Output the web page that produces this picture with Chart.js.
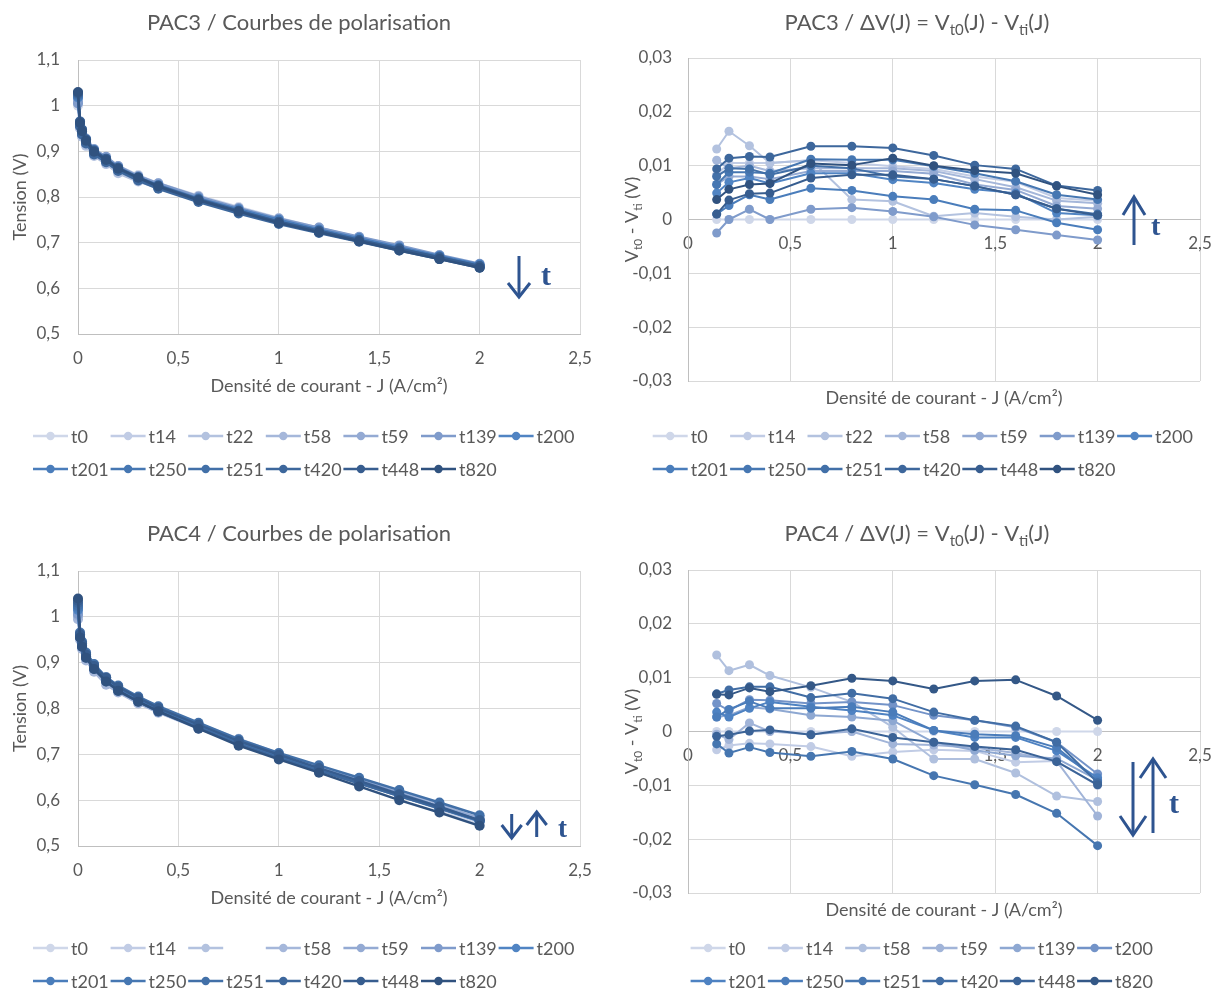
<!DOCTYPE html>
<html><head><meta charset="utf-8">
<script src="https://cdn.jsdelivr.net/npm/chart.js@4.4.1/dist/chart.umd.min.js"></script>
<style>
html,body{margin:0;padding:0;background:#fff;width:1220px;height:991px;overflow:hidden;position:relative;}
.box{position:absolute;width:610px;height:480px;}
canvas{display:block;}
</style></head><body>
<div class="box" style="left:0;top:0"><canvas id="c1" width="610" height="480"></canvas></div>
<div class="box" style="left:610px;top:0"><canvas id="c2" width="610" height="480"></canvas></div>
<div class="box" style="left:0;top:511px"><canvas id="c3" width="610" height="480"></canvas></div>
<div class="box" style="left:610px;top:511px"><canvas id="c4" width="610" height="480"></canvas></div>
<script>
// ---------- categories / x values ----------
const polJ = [0,0.01,0.02,0.04,0.08,0.14,0.2,0.3,0.4,0.6,0.8,1.0,1.2,1.4,1.6,1.8,2.0];
const dvJ  = [0.14,0.2,0.3,0.4,0.6,0.8,1.0,1.2,1.4,1.6,1.8,2.0];
const pac3Names   = ['t0','t14','t22','t58','t59','t139','t200','t201','t250','t251','t420','t448','t820'];
const pac4PolNames = ['t0','t14','','t58','t59','t139','t200','t201','t250','t251','t420','t448','t820'];
const pac4DvNames  = ['t0','t14','t58','t59','t139','t200','t201','t250','t251','t420','t448','t820'];

// ---------- tick labels ----------
const xTickValues = [0,0.5,1,1.5,2,2.5];
const xTickLabels = ['0','0,5','1','1,5','2','2,5'];
const polYTickValues = [0.5,0.6,0.7,0.8,0.9,1.0,1.1];
const polYTickLabels = ['0,5','0,6','0,7','0,8','0,9','1','1,1'];
const dvYTickValues = [-0.03,-0.02,-0.01,0,0.01,0.02,0.03];
const dvYTickLabels = ['-0,03','-0,02','-0,01','0','0,01','0,02','0,03'];

// ---------- PAC3 polarisation (V) ----------
const pac3Pol_t0   = [1.000,0.962,0.945,0.925,0.902,0.885,0.868,0.848,0.830,0.803,0.778,0.754,0.733,0.712,0.692,0.670,0.650];
const pac3Pol_t14  = [1.015,0.955,0.937,0.917,0.894,0.877,0.858,0.838,0.820,0.792,0.768,0.744,0.724,0.704,0.685,0.666,0.647];
const pac3Pol_t22  = [1.008,0.950,0.932,0.912,0.890,0.872,0.852,0.834,0.820,0.792,0.774,0.751,0.732,0.711,0.692,0.670,0.650];
const pac3Pol_t58  = [1.010,0.953,0.935,0.915,0.892,0.874,0.859,0.838,0.821,0.794,0.769,0.745,0.724,0.705,0.686,0.667,0.647];
const pac3Pol_t59  = [1.012,0.956,0.938,0.918,0.895,0.879,0.860,0.840,0.823,0.794,0.769,0.745,0.725,0.706,0.687,0.668,0.648];
const pac3Pol_t139 = [1.005,0.966,0.948,0.928,0.905,0.888,0.868,0.846,0.830,0.801,0.776,0.753,0.733,0.713,0.694,0.673,0.654];
const pac3Pol_t200 = [1.018,0.962,0.944,0.923,0.899,0.880,0.861,0.840,0.823,0.794,0.769,0.747,0.726,0.706,0.687,0.669,0.649];
const pac3Pol_t201 = [1.020,0.964,0.947,0.926,0.903,0.884,0.865,0.843,0.826,0.797,0.773,0.750,0.729,0.710,0.690,0.671,0.652];
const pac3Pol_t250 = [1.022,0.958,0.940,0.920,0.896,0.879,0.859,0.839,0.821,0.792,0.767,0.743,0.723,0.703,0.685,0.665,0.646];
const pac3Pol_t251 = [1.024,0.957,0.939,0.919,0.895,0.877,0.859,0.839,0.822,0.793,0.769,0.746,0.726,0.706,0.687,0.668,0.649];
const pac3Pol_t420 = [1.026,0.955,0.937,0.917,0.893,0.876,0.857,0.836,0.818,0.789,0.764,0.741,0.721,0.702,0.683,0.664,0.645];
const pac3Pol_t448 = [1.028,0.965,0.947,0.926,0.902,0.884,0.864,0.843,0.825,0.795,0.770,0.746,0.726,0.706,0.687,0.668,0.649];
const pac3Pol_t820 = [1.030,0.962,0.944,0.923,0.899,0.881,0.862,0.842,0.823,0.793,0.768,0.743,0.723,0.703,0.683,0.664,0.645];

// ---------- PAC3 deltaV (V) ----------
const pac3Dv_t0   = [0,0,0,0,0,0,0,0,0,0,0,0];
const pac3Dv_t14  = [0.0083,0.0105,0.0105,0.0105,0.0110,0.0105,0.0099,0.0094,0.0080,0.0070,0.0040,0.0035];
const pac3Dv_t22  = [0.0131,0.0164,0.0137,0.0105,0.0110,0.0037,0.0034,0.0006,0.0012,0.0005,0.0000,0.0005];
const pac3Dv_t58  = [0.0110,0.0095,0.0100,0.0090,0.0095,0.0095,0.0095,0.0090,0.0075,0.0060,0.0035,0.0030];
const pac3Dv_t59  = [0.0065,0.0080,0.0080,0.0075,0.0090,0.0090,0.0090,0.0085,0.0065,0.0055,0.0025,0.0020];
const pac3Dv_t139 = [-0.0025,0.0000,0.0019,0.0000,0.0019,0.0022,0.0015,0.0005,-0.0010,-0.0019,-0.0029,-0.0038];
const pac3Dv_t200 = [0.0049,0.0069,0.0077,0.0067,0.0086,0.0086,0.0074,0.0068,0.0056,0.0049,0.0012,0.0008];
const pac3Dv_t201 = [0.0010,0.0026,0.0046,0.0037,0.0058,0.0054,0.0043,0.0037,0.0019,0.0017,-0.0006,-0.0019];
const pac3Dv_t250 = [0.0065,0.0088,0.0088,0.0086,0.0112,0.0111,0.0111,0.0099,0.0086,0.0071,0.0046,0.0037];
const pac3Dv_t251 = [0.0080,0.0095,0.0094,0.0083,0.0100,0.0095,0.0080,0.0075,0.0062,0.0046,0.0020,0.0010];
const pac3Dv_t420 = [0.0094,0.0114,0.0117,0.0116,0.0136,0.0136,0.0133,0.0119,0.0101,0.0094,0.0063,0.0054];
const pac3Dv_t448 = [0.0010,0.0036,0.0048,0.0049,0.0077,0.0083,0.0083,0.0075,0.0062,0.0046,0.0020,0.0008];
const pac3Dv_t820 = [0.0037,0.0056,0.0065,0.0067,0.0104,0.0101,0.0114,0.0100,0.0091,0.0086,0.0062,0.0046];

// ---------- PAC4 polarisation (V) ----------
const pac4Pol_t0   = [1.000,0.962,0.942,0.918,0.893,0.866,0.846,0.823,0.801,0.764,0.729,0.698,0.668,0.639,0.610,0.580,0.546];
const pac4Pol_t14  = [1.005,0.965,0.945,0.921,0.896,0.869,0.849,0.825,0.803,0.767,0.734,0.702,0.671,0.643,0.616,0.586,0.556];
const pac4Pol_t22  = [1.008,0.963,0.944,0.920,0.895,0.868,0.848,0.825,0.803,0.766,0.732,0.700,0.670,0.641,0.613,0.583,0.553];
const pac4Pol_t58  = [0.995,0.950,0.930,0.905,0.880,0.852,0.835,0.811,0.791,0.756,0.724,0.697,0.673,0.644,0.618,0.592,0.559];
const pac4Pol_t59  = [1.003,0.962,0.942,0.918,0.893,0.867,0.848,0.821,0.801,0.765,0.729,0.700,0.671,0.642,0.614,0.586,0.562];
const pac4Pol_t139 = [1.006,0.958,0.938,0.914,0.889,0.863,0.843,0.819,0.797,0.761,0.726,0.696,0.670,0.643,0.615,0.585,0.555];
const pac4Pol_t200 = [1.015,0.957,0.937,0.913,0.888,0.861,0.842,0.817,0.795,0.759,0.724,0.693,0.665,0.637,0.609,0.582,0.554];
const pac4Pol_t201 = [1.018,0.958,0.938,0.914,0.889,0.862,0.843,0.819,0.796,0.759,0.725,0.695,0.668,0.640,0.611,0.584,0.555];
const pac4Pol_t250 = [1.022,0.959,0.939,0.915,0.890,0.863,0.842,0.817,0.797,0.760,0.724,0.694,0.668,0.640,0.611,0.583,0.555];
const pac4Pol_t251 = [1.025,0.966,0.946,0.922,0.897,0.868,0.850,0.826,0.805,0.769,0.733,0.703,0.676,0.649,0.622,0.595,0.567];
const pac4Pol_t420 = [1.030,0.955,0.935,0.911,0.886,0.859,0.838,0.815,0.793,0.758,0.722,0.692,0.664,0.637,0.609,0.582,0.556];
const pac4Pol_t448 = [1.035,0.962,0.942,0.918,0.893,0.867,0.847,0.823,0.801,0.765,0.729,0.699,0.670,0.642,0.613,0.586,0.556];
const pac4Pol_t820 = [1.040,0.955,0.935,0.911,0.886,0.859,0.839,0.815,0.794,0.756,0.719,0.689,0.660,0.630,0.600,0.573,0.544];

// ---------- PAC4 deltaV (V) ----------
const pac4Dv_t0   = [0,0,0,0,0,0,0,0,0,0,0,0];
const pac4Dv_t14  = [-0.0034,-0.0026,-0.0022,-0.0023,-0.0028,-0.0046,-0.0038,-0.0034,-0.0036,-0.0057,-0.0055,-0.0100];
const pac4Dv_t58  = [0.0142,0.0113,0.0124,0.0104,0.0082,0.0055,0.0008,-0.0051,-0.0051,-0.0077,-0.0120,-0.0130];
const pac4Dv_t59  = [-0.0005,-0.0015,0.0016,0.0000,-0.0005,0.0000,-0.0023,-0.0025,-0.0030,-0.0040,-0.0055,-0.0157];
const pac4Dv_t139 = [0.0027,0.0030,0.0045,0.0042,0.0030,0.0027,0.0020,-0.0020,-0.0035,-0.0045,-0.0050,-0.0090];
const pac4Dv_t200 = [0.0052,0.0039,0.0059,0.0058,0.0052,0.0055,0.0049,0.0030,0.0021,0.0008,-0.0020,-0.0079];
const pac4Dv_t201 = [0.0036,0.0027,0.0043,0.0055,0.0046,0.0039,0.0030,0.0002,-0.0011,-0.0011,-0.0036,-0.0086];
const pac4Dv_t250 = [0.0027,0.0041,0.0056,0.0043,0.0043,0.0046,0.0036,0.0002,-0.0005,-0.0008,-0.0030,-0.0092];
const pac4Dv_t251 = [-0.0023,-0.0040,-0.0029,-0.0039,-0.0046,-0.0037,-0.0051,-0.0082,-0.0099,-0.0117,-0.0152,-0.0212];
const pac4Dv_t420 = [0.0070,0.0077,0.0083,0.0083,0.0063,0.0071,0.0061,0.0036,0.0021,0.0010,-0.0020,-0.0095];
const pac4Dv_t448 = [-0.0009,-0.0006,0.0001,0.0003,-0.0006,0.0005,-0.0011,-0.0020,-0.0028,-0.0034,-0.0056,-0.0099];
const pac4Dv_t820 = [0.0069,0.0068,0.0081,0.0074,0.0085,0.0099,0.0094,0.0079,0.0094,0.0096,0.0066,0.0021];

// ---------- colours ----------
const colors13 = ['#cfd7e9','#c1cce5','#b3c2df','#a5b7da','#94aad3','#7f9bcb','#5084c3','#4a7dbb','#4677b2','#4270a8','#3d679c','#375d8f','#30527f'];
const colors12 = ['#cfd7e9','#c1cce5','#b0c0de','#a1b4d8','#8ea8d2','#7393c8','#4e82c2','#4a7cba','#4676b0','#416da4','#3b6397','#345887'];

const FONT = "Lato, 'Open Sans', sans-serif";
const GREY = '#595959';
const ARROW = '#2e5490';

function drawRich(ctx, segs, cx, cy, size, rot) {
  const subSize = Math.round(size * 0.68);
  const widths = segs.map(s => { ctx.font = (s.sub ? subSize : size) + 'px ' + FONT; return ctx.measureText(s.t).width; });
  const total = widths.reduce((a, b) => a + b, 0);
  ctx.save();
  ctx.translate(cx, cy); ctx.rotate(rot);
  ctx.fillStyle = GREY; ctx.textBaseline = 'alphabetic'; ctx.textAlign = 'left';
  let x = -total / 2; const base = size * 0.36;
  segs.forEach((s, i) => {
    ctx.font = (s.sub ? subSize : size) + 'px ' + FONT;
    ctx.fillText(s.t, x, s.sub ? base + size * 0.22 : base);
    x += widths[i];
  });
  ctx.restore();
}

const decoPlugin = {
  id: 'deco',
  afterDraw(chart, args, o) {
    const ctx = chart.ctx, ca = chart.chartArea;
    ctx.save();
    drawRich(ctx, o.title, o.titleX, o.titleY, o.titleSize, 0);
    drawRich(ctx, o.xTitle, (ca.left + ca.right) / 2, o.xTitleY, o.axisSize, 0);
    drawRich(ctx, o.yTitle, o.yTitleX, (ca.top + ca.bottom) / 2, o.axisSize, -Math.PI / 2);
    // legend
    const L = o.legend;
    chart.data.datasets.forEach((ds, i) => {
      const col = i % L.cols, row = Math.floor(i / L.cols);
      const x = L.x + col * L.dx, y = L.y + row * L.dy;
      ctx.strokeStyle = ds.borderColor; ctx.lineWidth = 2.5; ctx.lineCap = 'butt';
      ctx.beginPath(); ctx.moveTo(x, y); ctx.lineTo(x + 35, y); ctx.stroke();
      ctx.fillStyle = ds.borderColor;
      ctx.beginPath(); ctx.arc(x + 17.5, y, 4.2, 0, Math.PI * 2); ctx.fill();
      ctx.fillStyle = GREY; ctx.font = L.size + 'px ' + FONT;
      ctx.textBaseline = 'middle'; ctx.textAlign = 'left';
      ctx.fillText(ds.label, x + 38, y + 1);
    });
    // arrows
    ctx.strokeStyle = ARROW; ctx.lineWidth = 3; ctx.lineCap = 'butt'; ctx.lineJoin = 'miter';
    o.arrows.forEach(a => {
      const d = a.tip > a.tail ? 1 : -1;
      ctx.beginPath(); ctx.moveTo(a.x, a.tail); ctx.lineTo(a.x, a.tip - d * 1); ctx.stroke();
      ctx.beginPath();
      ctx.moveTo(a.x - a.w, a.tip - d * a.h); ctx.lineTo(a.x, a.tip); ctx.lineTo(a.x + a.w, a.tip - d * a.h);
      ctx.stroke();
    });
    ctx.fillStyle = ARROW; ctx.font = 'bold ' + o.t.size + "px 'Liberation Serif', 'DejaVu Serif', serif";
    ctx.textBaseline = 'alphabetic'; ctx.textAlign = 'left';
    ctx.fillText('t', o.t.x, o.t.y);
    ctx.restore();
  }
};

function buildChart(id, cfg) {
  const n = cfg.names.length;
  const datasets = cfg.names.map((name, i) => ({
    label: name,
    data: cfg.J.map((x, k) => ({ x: x, y: cfg.series[i][k] })),
    borderColor: cfg.colors[i], backgroundColor: cfg.colors[i],
    pointBackgroundColor: cfg.colors[i], pointBorderColor: cfg.colors[i],
    borderWidth: cfg.lw, pointRadius: cfg.pr, pointHoverRadius: cfg.pr, pointBorderWidth: 0,
    tension: 0, clip: false, order: n - 1 - i,
    borderJoinStyle: 'round', borderCapStyle: 'round'
  }));
  return new Chart(document.getElementById(id), {
    type: 'line',
    data: { datasets: datasets },
    plugins: [decoPlugin],
    options: {
      responsive: false, animation: false, events: [],
      layout: { padding: cfg.pad },
      plugins: { legend: { display: false }, title: { display: false }, tooltip: { enabled: false }, deco: cfg.deco },
      scales: {
        x: {
          type: 'linear', position: cfg.xPos, min: 0, max: 2.5,
          afterBuildTicks: s => { s.ticks = xTickValues.map(v => ({ value: v })); },
          afterFit: s => { s.height = cfg.xH; s.paddingLeft = 0; s.paddingRight = 0; },
          ticks: { autoSkip: false, maxRotation: 0, padding: cfg.xPad, color: GREY, font: { family: FONT, size: 17 },
                   callback: (v, i) => xTickLabels[i] },
          grid: { color: '#d9d9d9', lineWidth: 1, drawTicks: false },
          border: { color: '#bfbfbf', width: 1 }
        },
        y: {
          type: 'linear', position: 'left', min: cfg.yVals[0], max: cfg.yVals[cfg.yVals.length - 1],
          afterBuildTicks: s => { s.ticks = cfg.yVals.map(v => ({ value: v })); },
          afterFit: s => { s.width = 78; s.paddingTop = 0; s.paddingBottom = 0; },
          ticks: { autoSkip: false, padding: cfg.yPad, color: GREY, font: { family: FONT, size: 17 },
                   callback: (v, i) => cfg.yLabels[i] },
          grid: { color: '#d9d9d9', lineWidth: 1, drawTicks: false },
          border: { color: '#bfbfbf', width: 1 }
        }
      }
    }
  });
}

const dvTitle3 = [{t:'PAC3 / ΔV(J) = V'},{t:'t0',sub:1},{t:'(J) - V'},{t:'ti',sub:1},{t:'(J)'}];
const dvTitle4 = [{t:'PAC4 / ΔV(J) = V'},{t:'t0',sub:1},{t:'(J) - V'},{t:'ti',sub:1},{t:'(J)'}];
const dvYTitle = [{t:'V'},{t:'t0',sub:1},{t:' - V'},{t:'ti',sub:1},{t:' (V)'}];
const xTitle = [{t:'Densité de courant - J (A/cm²)'}];

buildChart('c1', {
  names: pac3Names, J: polJ, colors: colors13, lw: 2.5, pr: 5,
  series: [pac3Pol_t0,pac3Pol_t14,pac3Pol_t22,pac3Pol_t58,pac3Pol_t59,pac3Pol_t139,pac3Pol_t200,pac3Pol_t201,pac3Pol_t250,pac3Pol_t251,pac3Pol_t420,pac3Pol_t448,pac3Pol_t820],
  pad: { left: 0, right: 30, top: 60, bottom: 0 }, xPos: 'bottom', xH: 146, xPad: 14, yPad: 18,
  yVals: polYTickValues, yLabels: polYTickLabels,
  deco: { title: [{t:'PAC3 / Courbes de polarisation'}], titleX: 299, titleY: 22, titleSize: 22,
          xTitle: xTitle, xTitleY: 386, yTitle: [{t:'Tension (V)'}], yTitleX: 20, axisSize: 18,
          legend: { x: 33, y: 436, dx: 77.6, dy: 33, cols: 7, size: 18 },
          arrows: [{ x: 519, tip: 297, tail: 256, w: 11, h: 14 }], t: { x: 541, y: 285, size: 30 } }
});

buildChart('c2', {
  names: pac3Names, J: dvJ, colors: colors13, lw: 2, pr: 4.5,
  series: [pac3Dv_t0,pac3Dv_t14,pac3Dv_t22,pac3Dv_t58,pac3Dv_t59,pac3Dv_t139,pac3Dv_t200,pac3Dv_t201,pac3Dv_t250,pac3Dv_t251,pac3Dv_t420,pac3Dv_t448,pac3Dv_t820],
  pad: { left: 0, right: 20, top: 58, bottom: 99 }, xPos: { y: 0 }, xH: 0, xPad: 14, yPad: 16,
  yVals: dvYTickValues, yLabels: dvYTickLabels,
  deco: { title: dvTitle3, titleX: 307, titleY: 22, titleSize: 22,
          xTitle: xTitle, xTitleY: 398, yTitle: dvYTitle, yTitleX: 22, axisSize: 18,
          legend: { x: 42.7, y: 436, dx: 77.4, dy: 33, cols: 7, size: 18 },
          arrows: [{ x: 524, tip: 197, tail: 245, w: 11, h: 18 }], t: { x: 541, y: 235, size: 28 } }
});

buildChart('c3', {
  names: pac4PolNames, J: polJ, colors: colors13, lw: 2.5, pr: 5,
  series: [pac4Pol_t0,pac4Pol_t14,pac4Pol_t22,pac4Pol_t58,pac4Pol_t59,pac4Pol_t139,pac4Pol_t200,pac4Pol_t201,pac4Pol_t250,pac4Pol_t251,pac4Pol_t420,pac4Pol_t448,pac4Pol_t820],
  pad: { left: 0, right: 30, top: 60, bottom: 0 }, xPos: 'bottom', xH: 145, xPad: 14, yPad: 18,
  yVals: polYTickValues, yLabels: polYTickLabels,
  deco: { title: [{t:'PAC4 / Courbes de polarisation'}], titleX: 299, titleY: 22, titleSize: 22,
          xTitle: xTitle, xTitleY: 387, yTitle: [{t:'Tension (V)'}], yTitleX: 20, axisSize: 18,
          legend: { x: 33, y: 437, dx: 77.6, dy: 33, cols: 7, size: 18 },
          arrows: [{ x: 511.7, tip: 327, tail: 303, w: 10, h: 13 }, { x: 536.7, tip: 301, tail: 326, w: 10, h: 13 }],
          t: { x: 558, y: 326, size: 27 } }
});

buildChart('c4', {
  names: pac4DvNames, J: dvJ, colors: colors12, lw: 2, pr: 4.5,
  series: [pac4Dv_t0,pac4Dv_t14,pac4Dv_t58,pac4Dv_t59,pac4Dv_t139,pac4Dv_t200,pac4Dv_t201,pac4Dv_t250,pac4Dv_t251,pac4Dv_t420,pac4Dv_t448,pac4Dv_t820],
  pad: { left: 0, right: 20, top: 59, bottom: 98 }, xPos: { y: 0 }, xH: 0, xPad: 14, yPad: 16,
  yVals: dvYTickValues, yLabels: dvYTickLabels,
  deco: { title: dvTitle4, titleX: 307, titleY: 22, titleSize: 22,
          xTitle: xTitle, xTitleY: 399, yTitle: dvYTitle, yTitleX: 22, axisSize: 18,
          legend: { x: 80.6, y: 437, dx: 77.3, dy: 33, cols: 6, size: 18 },
          arrows: [{ x: 523, tip: 324, tail: 251, w: 13, h: 19 }, { x: 543, tip: 248, tail: 322, w: 13, h: 19 }],
          t: { x: 559, y: 302, size: 30 } }
});
</script>
</body></html>
